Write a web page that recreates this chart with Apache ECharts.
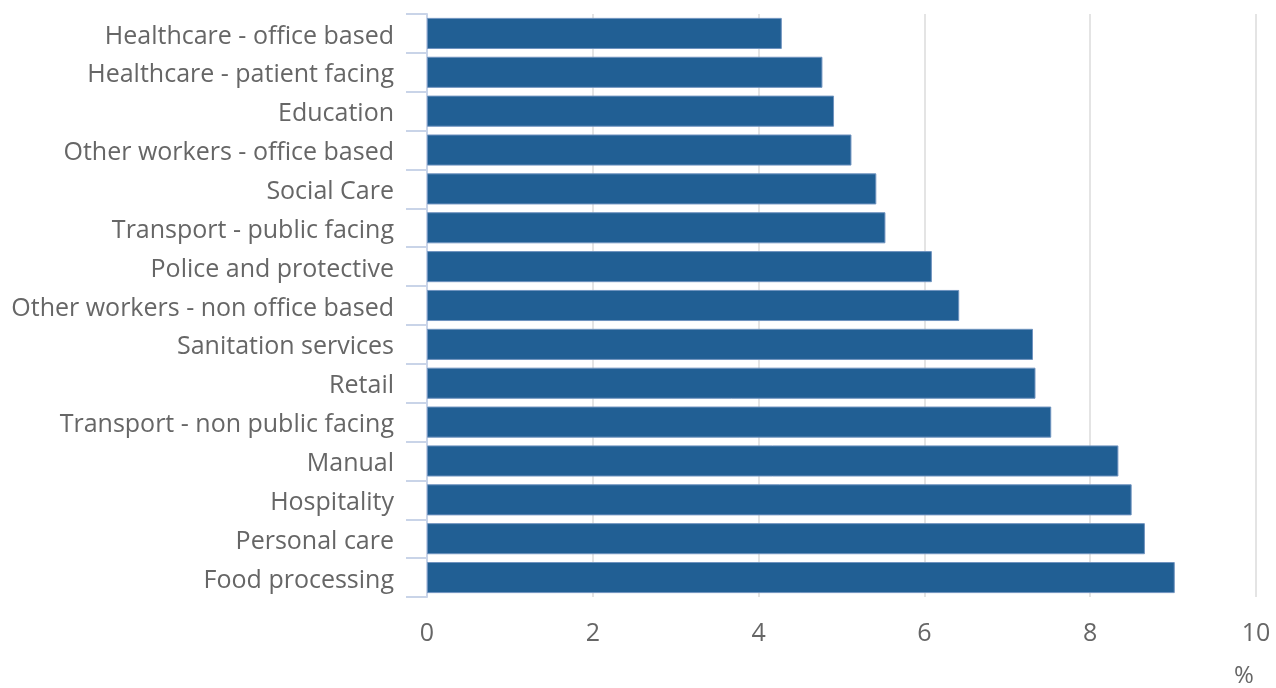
<!DOCTYPE html>
<html>
<head>
<meta charset="utf-8">
<script src="https://cdn.jsdelivr.net/npm/echarts@6/dist/echarts.min.js"></script>
<style>
  html, body { margin: 0; padding: 0; background: #ffffff; }
  #chart { width: 1276px; height: 688px; }
</style>
</head>
<body>
<div id="chart"></div>
<script>
// Occupation groups, listed top to bottom
const categories = [
  'Healthcare - office based',
  'Healthcare - patient facing',
  'Education',
  'Other workers - office based',
  'Social Care',
  'Transport - public facing',
  'Police and protective',
  'Other workers - non office based',
  'Sanitation services',
  'Retail',
  'Transport - non public facing',
  'Manual',
  'Hospitality',
  'Personal care',
  'Food processing'
];

// Percentage for each occupation group
const values = [4.28, 4.77, 4.91, 5.12, 5.42, 5.53, 6.09, 6.42, 7.31, 7.34, 7.53, 8.34, 8.50, 8.66, 9.02];

const xTicks = { min: 0, max: 10, interval: 2 };
const unitLabel = '%';

const textColor = '#666666';
const font = '"Open Sans", "Noto Sans", sans-serif';

const chart = echarts.init(document.getElementById('chart'), null, { renderer: 'canvas' });
chart.setOption({
  animation: false,
  backgroundColor: '#ffffff',
  title: {
    text: unitLabel,
    left: 1234,
    top: 662,
    padding: 0,
    textStyle: { color: textColor, fontFamily: font, fontSize: 24, fontWeight: 'normal', lineHeight: 28 }
  },
  grid: { left: 427, right: 20, top: 14, bottom: 91, containLabel: false },
  xAxis: {
    type: 'value',
    min: xTicks.min,
    max: xTicks.max,
    interval: xTicks.interval,
    axisLine: { show: false },
    axisTick: { show: false },
    splitLine: { show: true, lineStyle: { color: '#e4e4e4', width: 2 } },
    axisLabel: { color: textColor, fontFamily: font, fontSize: 25, margin: 24 }
  },
  yAxis: {
    type: 'category',
    data: categories,
    inverse: true,
    axisLine: { show: true, lineStyle: { color: '#c9d4e8', width: 2 } },
    axisTick: { show: true, length: 21, alignWithLabel: false, lineStyle: { color: '#c9d4e8', width: 2 } },
    axisLabel: {
      color: textColor, fontFamily: font, fontSize: 25, margin: 33,
      verticalAlign: 'top', lineHeight: 6
    },
    splitLine: { show: false }
  },
  series: [{
    type: 'bar',
    data: values,
    barCategoryGap: '20%',
    itemStyle: { color: '#215f94', borderColor: '#6f93bf', borderWidth: 1 }
  }]
});
</script>
</body>
</html>
